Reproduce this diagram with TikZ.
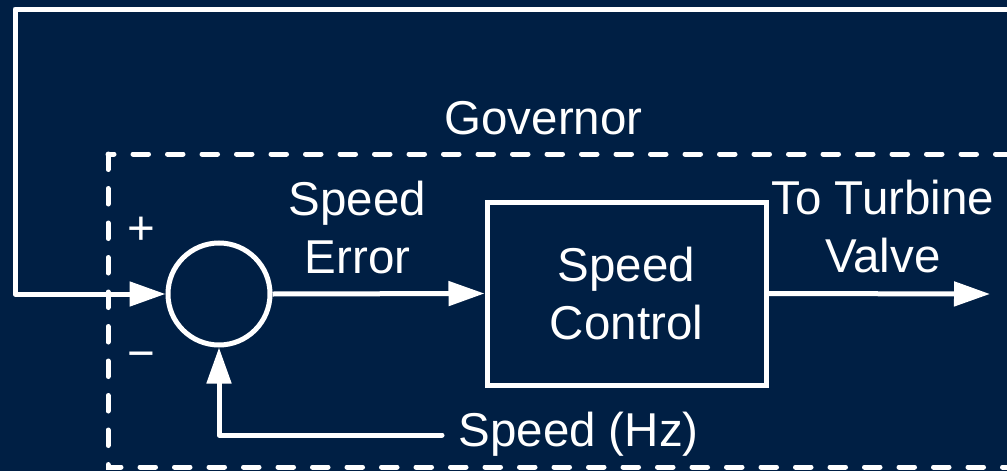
\documentclass[tikz,border=0pt]{standalone}
\usepackage{fontspec}
\setmainfont{Liberation Sans}
\usetikzlibrary{arrows.meta}
\definecolor{navy}{HTML}{001F44}
\begin{document}
\begin{tikzpicture}[x=1pt, y=-1pt, line width=5pt,
  lbl/.style={font=\fontsize{47.5}{58}\selectfont, text=white, inner sep=0pt, align=center},
  wire/.style={draw=white, line width=5pt, line join=round},
  tip/.style={-{Triangle[length=36pt,width=24pt]}},
  govframe/.style={draw=white, line width=5pt, line cap=round, dash pattern=on 15.5pt off 19pt}]
  % canvas
  \useasboundingbox (0,0) rectangle (1007,471);
  \fill[navy] (0,0) rectangle (1007,471);

  % governor frame (runs off the right edge)
  \draw[govframe] (108,154) rectangle (1040,467);
  \node[lbl, anchor=base] (govlbl) at (543.5,134) {Governor};

  % summing junction and controller block
  \node[draw=white, line width=5pt, circle, minimum size=102pt, inner sep=0pt] (sum) at (219,294) {};
  \node[draw=white, line width=5pt, minimum width=279pt, minimum height=183pt, lbl] (ctrl) at (626.5,293.5) {Speed\\Control};

  % signs
  \node[lbl] (plus) at (141,231) {+};
  \node[lbl] (minus) at (141,361) {−};

  % signal labels (base = baseline of the last line)
  \node[lbl, anchor=base] (errlbl) at (357.5,273) {Speed\\Error};
  \node[lbl, anchor=base] (tvlbl) at (883,272) {To Turbine\\Valve};
  \node[lbl, anchor=base west] (hzlbl) at (456,446) {Speed (Hz)};

  % connectors
  \coordinate (loopR) at (1015,9);
  \coordinate (loopL) at (15,9);
  \coordinate (out) at (990,294);
  \coordinate (fbk) at (442,435);
  \draw[wire, tip] (loopR) -- (loopL) |- (sum.west);
  \draw[wire, tip] (sum.east) -- (ctrl.west);
  \draw[wire, tip] (ctrl.east) -- (out);
  \draw[wire, tip, line cap=round] (fbk) -| (sum.south);
\end{tikzpicture}
\end{document}
